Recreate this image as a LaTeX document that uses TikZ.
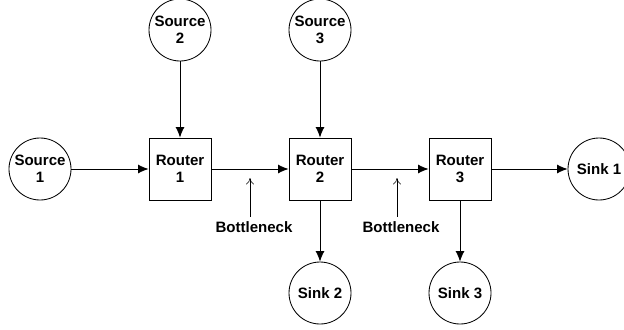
\documentclass[tikz,border=0pt]{standalone}
\usepackage{fontspec}
\setmainfont{Liberation Sans}
\usetikzlibrary{arrows.meta}

\begin{document}
\begin{tikzpicture}[
    font=\fontsize{10.7}{12}\selectfont\bfseries,
    host/.style={circle, draw, line width=0.6pt, minimum size=1.55cm, inner sep=0pt, align=center},
    router/.style={rectangle, draw, line width=0.6pt, minimum width=1.55cm, minimum height=1.55cm, align=center},
    arrow/.style={-{Latex[length=2.6mm,width=2.2mm]}, line width=0.6pt},
    pointer/.style={-{To[length=1.6mm,width=2mm]}, line width=0.4pt}
]
    \useasboundingbox (0,0) rectangle (15.6,-8.225);

    % Routers
    \node[router] (router1) at (4.5,-4.225) {Router\\1};
    \node[router] (router2) at (8.0,-4.225) {Router\\2};
    \node[router] (router3) at (11.5,-4.225) {Router\\3};

    % Sources
    \node[host] (source1) at (1.0,-4.225) {Source\\1};
    \node[host] (source2) at (4.5,-0.75) {Source\\2};
    \node[host] (source3) at (8.0,-0.75) {Source\\3};

    % Sinks
    \node[host] (sink1) at (14.975,-4.225) {Sink 1};
    \node[host] (sink2) at (8.0,-7.325) {Sink 2};
    \node[host] (sink3) at (11.5,-7.325) {Sink 3};

    % Bottlenecks
    \coordinate (neck1) at (6.25,-4.45);
    \coordinate (neck2) at (9.925,-4.45);
    \node (label1) at (6.35,-5.68) {Bottleneck};
    \node (label2) at (10.025,-5.68) {Bottleneck};

    % Arrows
    \draw[arrow] (source1) -- (router1);
    \draw[arrow] (source2) -- (router1);
    \draw[arrow] (source3) -- (router2);
    \draw[arrow] (router1) -- (router2);
    \draw[arrow] (router2) -- (router3);
    \draw[arrow] (router3) -- (sink1);
    \draw[arrow] (router2) -- (sink2);
    \draw[arrow] (router3) -- (sink3);
    \draw[pointer] (label1.north -| neck1) -- (neck1);
    \draw[pointer] (label2.north -| neck2) -- (neck2);
\end{tikzpicture}
\end{document}
